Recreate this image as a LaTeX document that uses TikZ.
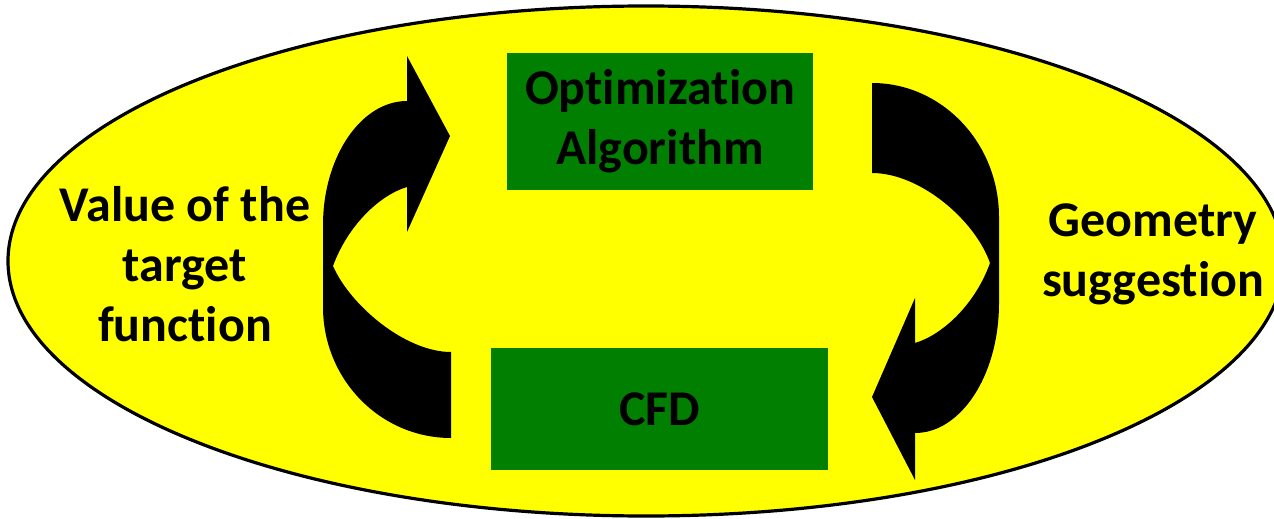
\documentclass[tikz,border=0pt]{standalone}
\usepackage{fontspec}
\setmainfont{Carlito}[Ligatures={NoCommon,NoContextual},RawFeature={-liga;-clig;-calt;-dlig}]
\usepackage{tikz}
\usetikzlibrary{positioning,calc}
\definecolor{bgyellow}{HTML}{FFFF00}
\definecolor{boxgreen}{HTML}{007F00}

\begin{document}
\begin{tikzpicture}[x=0.5pt,y=-0.5pt,
  box/.style={rectangle,fill=boxgreen,inner sep=0pt,align=center,font=\fontsize{25}{30}\selectfont\bfseries},
  lbl/.style={align=center,font=\fontsize{25}{30}\selectfont\bfseries},
  bigarrow/.style={fill=black,draw=none}]
\useasboundingbox (0,0) rectangle (1274,519);
\begin{scope}
\clip (0,0) rectangle (1274,519);
\draw[line width=1.6pt,fill=bgyellow] (646,261) ellipse [x radius=638,y radius=255];
\end{scope}

\node[box,minimum width=153pt,minimum height=68.5pt] (opt) at (660,121.5) {Optimization\\Algorithm};
\node[box,minimum width=168.5pt,minimum height=61pt] (cfd) at (659.5,409) {CFD};

\node[lbl] (value) at (185,264) {Value of the\\target\\function};
\node[lbl] (geom) at (1153,254) {Geometry\\suggestion};

% left arrow, cfd -> optimization
\fill[bigarrow] (451,438) .. controls (380,438) and (323,379) .. (323,307)
  -- (323,225) .. controls (323,157) and (361,101) .. (407,101)
  -- (407,56) -- (450,136) -- (407,232) -- (407,187)
  .. controls (380,195) and (348,225) .. (333,266)
  .. controls (350,305) and (405,352) .. (451,352) -- cycle;

% right arrow, optimization -> cfd
\fill[bigarrow] (872,83) .. controls (942,83) and (999,143) .. (999,217)
  -- (999,303) .. controls (999,375) and (961,433) .. (915,433)
  -- (915,480) -- (872,397) -- (915,298) -- (915,343)
  .. controls (942,335) and (975,305) .. (990,263)
  .. controls (975,220) and (920,173) .. (872,173) -- cycle;
\end{tikzpicture}
\end{document}
